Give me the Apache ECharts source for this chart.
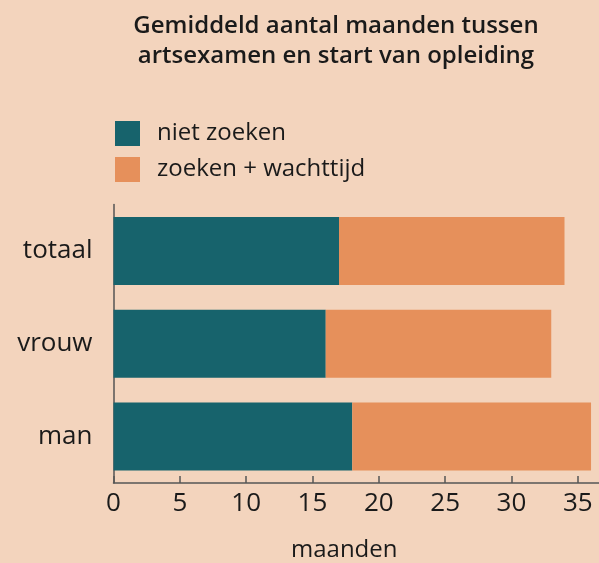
<!DOCTYPE html>
<html>
<head>
<meta charset="utf-8">
<script src="https://cdn.jsdelivr.net/npm/echarts@6/dist/echarts.min.js"></script>
<style>
  html, body { margin: 0; padding: 0; background: #f3d4bd; }
  #chart { width: 599px; height: 563px; }
</style>
</head>
<body>
<div id="chart"></div>
<script>
// categories, bottom to top
const categories = ['man', 'vrouw', 'totaal'];
const nietZoeken = [18, 16, 17];
const zoekenWacht = [18, 17, 17];
const seriesNames = ['niet zoeken', 'zoeken + wachttijd'];

const font = 'Open Sans';
const chart = echarts.init(document.getElementById('chart'));

chart.setOption({
    backgroundColor: '#f3d4bd',
    animation: false,
    textStyle: { fontFamily: font },
    title: {
        text: 'Gemiddeld aantal maanden tussen\nartsexamen en start van opleiding',
        left: 331, top: 6, textAlign: 'center',
        textStyle: { fontFamily: font, fontSize: 24, fontWeight: 600, color: '#1a1a1a', lineHeight: 30 }
    },
    legend: {
        orient: 'vertical', left: 110, top: 116,
        itemWidth: 25, itemHeight: 25, itemGap: 11,
        icon: 'rect',
        data: seriesNames,
        textStyle: { fontFamily: font, fontSize: 24, color: '#1a1a1a', padding: [0, 0, 0, 12] }
    },
    grid: { left: 113.5, right: 0, top: 204.5, bottom: 79.5, containLabel: false },
    xAxis: {
        type: 'value', min: 0, max: 36.6, interval: 5,
        name: 'maanden', nameLocation: 'middle', nameGap: 55,
        nameTextStyle: { fontFamily: font, fontSize: 24, color: '#1a1a1a', padding: [0, 24, 0, 0] },
        axisLine: { show: true, lineStyle: { color: '#555', width: 1.5 } },
        axisTick: { show: true, inside: true, length: 7, lineStyle: { color: '#555', width: 1.5 } },
        axisLabel: { fontFamily: font, fontSize: 26, color: '#1a1a1a', margin: 8, showMaxLabel: false },
        splitLine: { show: false }
    },
    yAxis: {
        type: 'category', data: categories,
        axisLine: { show: true, lineStyle: { color: '#555', width: 1.5 } },
        axisTick: { show: false },
        axisLabel: { fontFamily: font, fontSize: 26, color: '#1a1a1a', margin: 21, padding: [0, 0, 6, 0] }
    },
    series: [
        { name: seriesNames[0], type: 'bar', stack: 'tot', data: nietZoeken, barWidth: 68,
          itemStyle: { color: '#17636c' } },
        { name: seriesNames[1], type: 'bar', stack: 'tot', data: zoekenWacht, barWidth: 68,
          itemStyle: { color: '#e6905b' } }
    ]
});
</script>
</body>
</html>
